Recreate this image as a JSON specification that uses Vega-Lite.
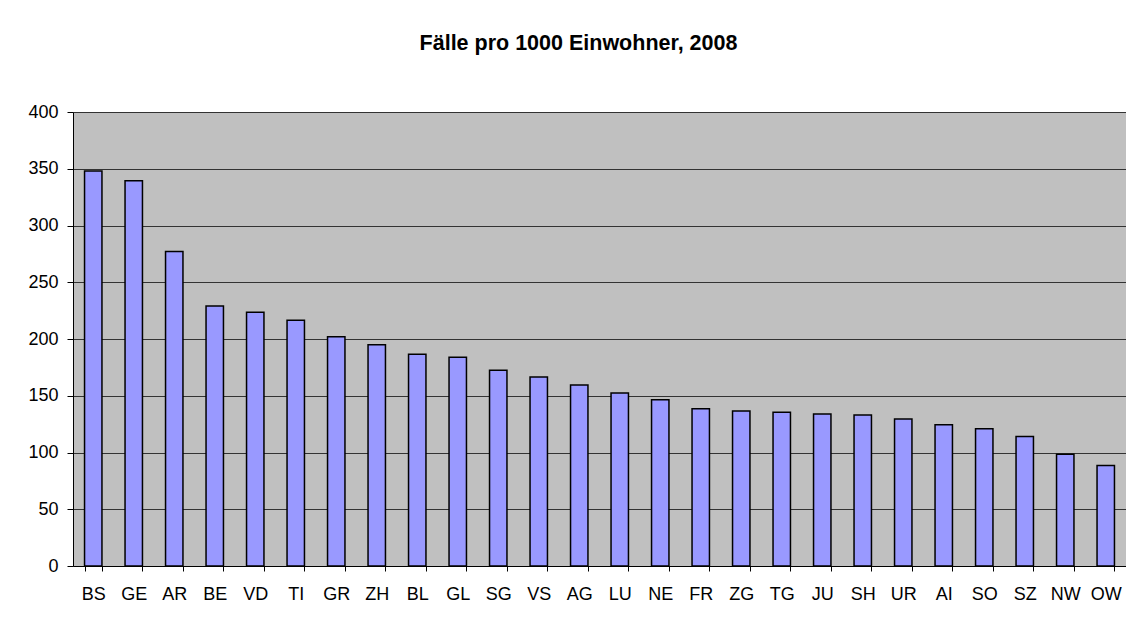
{
  "$schema": "https://vega.github.io/schema/vega-lite/v6.json",
  "autosize": {"type": "none"},
  "padding": {"left": 73, "top": 112, "right": 0, "bottom": 61},
  "width": 1053,
  "height": 454,
  "background": "#ffffff",
  "title": {
    "text": "Fälle pro 1000 Einwohner, 2008",
    "font": "Liberation Sans",
    "fontSize": 21.5,
    "fontWeight": "bold",
    "color": "#000000",
    "anchor": "middle",
    "frame": "group",
    "baseline": "alphabetic",
    "offset": 32,
    "dx": -21
  },
  "data": {
    "values": [
      {"kanton": "BS", "faelle": 348},
      {"kanton": "GE", "faelle": 339.5},
      {"kanton": "AR", "faelle": 277},
      {"kanton": "BE", "faelle": 229},
      {"kanton": "VD", "faelle": 223.5},
      {"kanton": "TI", "faelle": 216.5},
      {"kanton": "GR", "faelle": 202},
      {"kanton": "ZH", "faelle": 195},
      {"kanton": "BL", "faelle": 186.5},
      {"kanton": "GL", "faelle": 184},
      {"kanton": "SG", "faelle": 172.5},
      {"kanton": "VS", "faelle": 166.5},
      {"kanton": "AG", "faelle": 159.5},
      {"kanton": "LU", "faelle": 152.5},
      {"kanton": "NE", "faelle": 146.5},
      {"kanton": "FR", "faelle": 138.5},
      {"kanton": "ZG", "faelle": 136.5},
      {"kanton": "TG", "faelle": 135.5},
      {"kanton": "JU", "faelle": 134},
      {"kanton": "SH", "faelle": 133},
      {"kanton": "UR", "faelle": 129.5},
      {"kanton": "AI", "faelle": 124.5},
      {"kanton": "SO", "faelle": 121},
      {"kanton": "SZ", "faelle": 114},
      {"kanton": "NW", "faelle": 98.5},
      {"kanton": "OW", "faelle": 88.5}
    ]
  },
  "mark": {"type": "bar", "fill": "#9999ff", "stroke": "#000000", "strokeWidth": 1.5},
  "encoding": {
    "x": {
      "field": "kanton",
      "type": "nominal",
      "sort": null,
      "scale": {"paddingInner": 0.57, "paddingOuter": 0.285},
      "axis": {
        "title": null,
        "labelAngle": 0,
        "labelFont": "Liberation Sans",
        "labelFontSize": 18,
        "labelColor": "#000000",
        "labelPadding": 14,
        "tickBand": "extent",
        "tickSize": 5,
        "tickColor": "#000000",
        "domainColor": "#000000",
        "grid": false
      }
    },
    "y": {
      "field": "faelle",
      "type": "quantitative",
      "scale": {"domain": [0, 400], "nice": false},
      "axis": {
        "title": null,
        "values": [0, 50, 100, 150, 200, 250, 300, 350, 400],
        "labelFont": "Liberation Sans",
        "labelFontSize": 18,
        "labelColor": "#000000",
        "labelPadding": 9,
        "tickSize": 6,
        "tickColor": "#000000",
        "domainColor": "#000000",
        "grid": true,
        "gridColor": "#333333",
        "gridWidth": 1
      }
    }
  },
  "config": {
    "view": {"fill": "#c0c0c0", "stroke": null},
    "axis": {"domainWidth": 1, "tickWidth": 1}
  }
}
